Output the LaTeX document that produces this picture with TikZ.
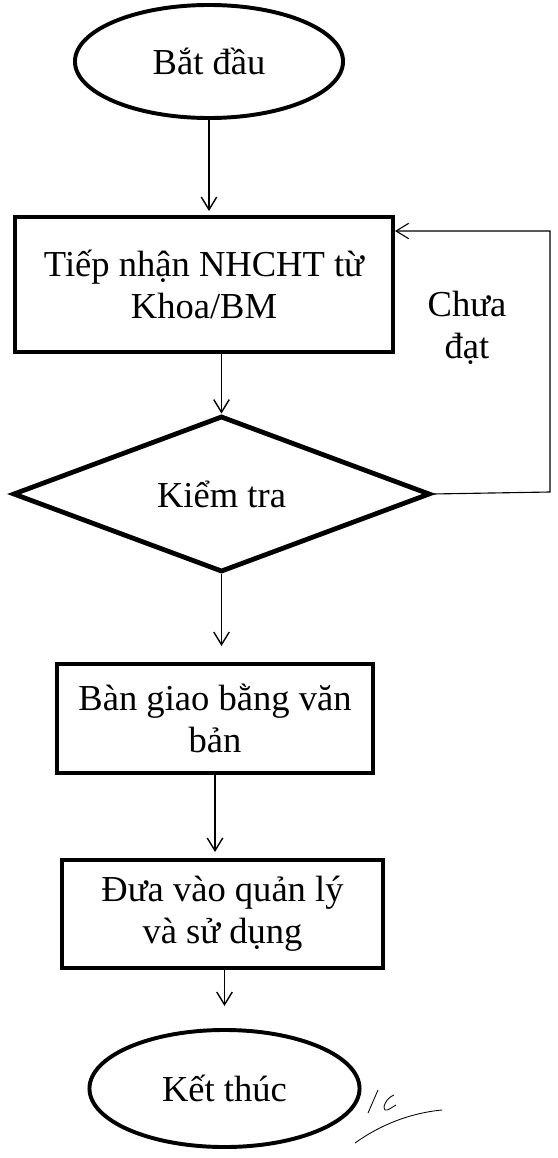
\documentclass[tikz,border=0pt]{standalone}
\usepackage{fontspec}
\setmainfont{Liberation Serif}
\usetikzlibrary{shapes.geometric,arrows.meta,calc}

\tikzset{
  terminal/.style={draw,ellipse,line width=2.8pt,inner sep=0pt},
  process/.style={draw,rectangle,line width=2.8pt,align=center,inner sep=0pt},
  decision/.style={draw,diamond,aspect=2.67,line width=3.4pt,inner sep=0pt},
  arr/.style={-{Straight Barb[length=9pt,width=11pt]},line width=1pt},
  flowfont/.style={font=\fontsize{26}{30}\selectfont}
}

\begin{document}
\begin{tikzpicture}[x=0.025cm,y=-0.025cm,flowfont]
\useasboundingbox (0,0) rectangle (558,1158);

% Shapes
\node[terminal,minimum width=6.7cm,minimum height=2.825cm] (start) at (209,61.5) {Bắt đầu};
\node[process,minimum width=9.45cm,minimum height=3.375cm] (receive) at (204,284.5) {Tiếp nhận NHCHT từ\\Khoa/BM};
\node[decision,minimum width=10.425cm,minimum height=3.9cm] (check) at (221.5,494) {Kiểm tra};
\node[process,minimum width=7.9cm,minimum height=2.725cm] (handover) at (215,718.5) {Bàn giao bằng văn\\bản};
\node[process,minimum width=8.025cm,minimum height=2.7cm] (manage) at (222.5,914) {Đưa vào quản lý\\và sử dụng};
\node[terminal,minimum width=6.75cm,minimum height=2.925cm] (finish) at (224.5,1088.5) {Kết thúc};

% Flow
\draw[arr,shorten >=0.1cm] (start.south) -- (start.south |- receive.north);
\draw[arr] (receive.south -| check.north) -- (check.north);
\draw[arr,shorten >=0.4cm] (check.south) -- (check.south |- handover.north);
\draw[arr,shorten >=0.15cm] (handover.south) -- (handover.south |- manage.north);
\draw[arr,shorten >=0.55cm] (manage.south -| finish.north) -- (finish.north);

% Feedback loop
\coordinate (loop) at (550,492);
\coordinate (back) at ([yshift=-0.4cm]receive.north east);
\draw[arr,line width=0.8pt] (check.east) -- (loop) |- (back);
\node[align=center] (notok) at (467,328) {Chưa\\đạt};

% Initials
\draw[line width=0.6pt] (368,1113) -- (378,1090);
\draw[line width=0.6pt] (394,1095) .. controls (386,1098) and (382,1108) .. (385,1110) .. controls (388,1111) and (392,1107) .. (396,1105);
\draw[line width=0.6pt] (355,1143) .. controls (380,1125) and (410,1113) .. (442,1110);
\end{tikzpicture}
\end{document}
